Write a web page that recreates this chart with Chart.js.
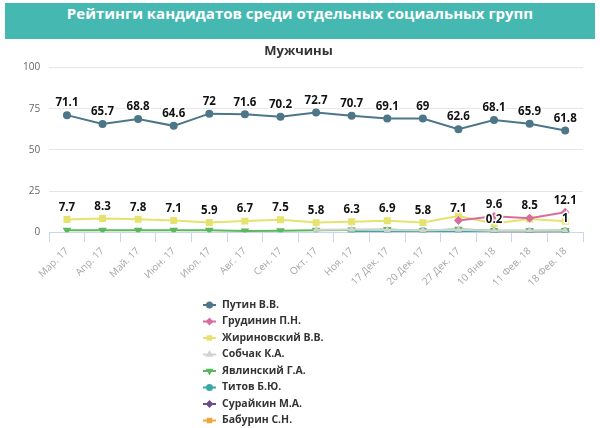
<!DOCTYPE html>
<html lang="ru">
<head>
<meta charset="utf-8">
<script src="https://cdn.jsdelivr.net/npm/chart.js@4.4.0/dist/chart.umd.min.js"></script>
<style>
  html, body { margin: 0; padding: 0; background: #fff; }
  #wrap { position: relative; width: 600px; height: 428px; }
  #banner {
    position: absolute; left: 5px; top: 3px; width: 590px; height: 36px;
    background: #45b8b2; color: #fff; text-align: center; line-height: 36px;
    font: bold 15px "Open Sans", sans-serif;
  }
  #line-chart { position: absolute; left: 0; top: 0; }
</style>
</head>
<body>
<div id="wrap">
  <canvas id="line-chart" width="600" height="428"></canvas>
  <div id="banner">Рейтинги кандидатов среди отдельных социальных групп</div>
</div>
<script>
const dates = ['Мар. 17', 'Апр. 17', 'Май. 17', 'Июн. 17', 'Июл. 17', 'Авг. 17', 'Сен. 17', 'Окт. 17',
  'Ноя. 17', '17 Дек. 17', '20 Дек. 17', '27 Дек. 17', '10 Янв. 18', '11 Фев. 18', '18 Фев. 18'];

const putin      = [71.1, 65.7, 68.8, 64.6, 72, 71.6, 70.2, 72.7, 70.7, 69.1, 69, 62.6, 68.1, 65.9, 61.8];
const grudinin   = [null, null, null, null, null, null, null, null, null, null, null, 7.1, 9.6, 8.5, 12.1];
const zhirinovsky = [7.7, 8.3, 7.8, 7.1, 5.9, 6.7, 7.5, 5.8, 6.3, 6.9, 5.8, 9.8, 5.2, 8.0, 6.6];
const sobchak    = [null, null, null, null, null, null, null, 1.5, 1.6, 1.3, 1.2, 1.4, 0.9, 0.8, 1.0];
const yavlinsky  = [1.2, 1.2, 1.1, 1.1, 1.2, 0.7, 0.8, 1.2, 1.3, 1.6, 0.9, 1.8, 0.8, 0.9, 1];
const titov      = [null, null, null, null, null, null, null, null, 0.6, 0.6, 0.6, 0.6, 0.4, 0.3, 0.4];
const suraykin   = [null, null, null, null, null, null, null, null, null, null, null, null, 0.2, 0.2, 0.4];
const baburin    = [null, null, null, null, null, null, null, null, null, null, null, null, null, 0.3, 0.4];

// which points get a value label (others are hidden like in the original)
const putinLabels = [0, 1, 2, 3, 4, 5, 6, 7, 8, 9, 10, 11, 12, 13, 14];
const grudininLabels = [11, 12, 13, 14];
const zhirinovskyLabels = [0, 1, 2, 3, 4, 5, 6, 7, 8, 9, 10];
const yavlinskyLabels = [14];
const suraykinLabels = [12];

function series(label, data, color, style, labelAt, rotation, radius) {
  return {
    label: label,
    data: data,
    borderColor: color,
    backgroundColor: color,
    borderWidth: 2,
    pointStyle: style,
    pointRotation: rotation || 0,
    pointRadius: radius || (style === 'rect' ? 3.5 : 3),
    tension: 0,
    spanGaps: false,
    labelAt: labelAt || []
  };
}

const pointLabels = {
  id: 'pointLabels',
  afterDatasetsDraw(chart) {
    const ctx = chart.ctx;
    ctx.save();
    ctx.font = 'bold 11.5px "Open Sans", sans-serif';
    ctx.textAlign = 'center';
    ctx.textBaseline = 'middle';
    chart.data.datasets.forEach((ds, i) => {
      const meta = chart.getDatasetMeta(i);
      ds.labelAt.forEach(j => {
        const pt = meta.data[j];
        const txt = String(ds.data[j]);
        ctx.lineWidth = 3;
        ctx.strokeStyle = '#fff';
        ctx.strokeText(txt, pt.x, pt.y - 12);
        ctx.fillStyle = '#111';
        ctx.fillText(txt, pt.x, pt.y - 12);
      });
    });
    ctx.restore();
  }
};

const columnLegend = {
  id: 'columnLegend',
  afterDraw(chart) {
    const ctx = chart.ctx;
    ctx.save();
    ctx.font = 'bold 10.5px "Open Sans", sans-serif';
    ctx.textBaseline = 'middle';
    chart.data.datasets.forEach((ds, i) => {
      const y = 305 + i * 16.5;
      ctx.strokeStyle = ds.borderColor;
      ctx.fillStyle = ds.borderColor;
      ctx.lineWidth = 2;
      ctx.beginPath();
      ctx.moveTo(203, y);
      ctx.lineTo(216, y);
      ctx.stroke();
      Chart.helpers.drawPoint(ctx, {pointStyle: ds.pointStyle, rotation: ds.pointRotation, radius: 2.5, borderWidth: 1}, 209.5, y);
      ctx.fillStyle = '#333';
      ctx.fillText(ds.label, 222, y);
    });
    ctx.restore();
  }
};

const config = {
  type: 'line',
  data: {
    labels: dates,
    datasets: [
      series('Путин В.В.', putin, '#4d7689', 'circle', putinLabels),
      series('Грудинин П.Н.', grudinin, '#d96c9e', 'rectRot', grudininLabels),
      series('Жириновский В.В.', zhirinovsky, '#e6e26e', 'rect', zhirinovskyLabels),
      series('Собчак К.А.', sobchak, '#d2d2d2', 'triangle', null, 0, 2),
      series('Явлинский Г.А.', yavlinsky, '#5cb85c', 'triangle', yavlinskyLabels, 180),
      series('Титов Б.Ю.', titov, '#3aa8a6', 'circle'),
      series('Сурайкин М.А.', suraykin, '#6b4f86', 'rectRot', suraykinLabels),
      series('Бабурин С.Н.', baburin, '#eba83a', 'rect')
    ]
  },
  options: {
    responsive: false,
    animation: false,
    layout: { padding: { left: 14, right: 17, top: 0, bottom: 136 } },
    plugins: {
      legend: { display: false },
      tooltip: { enabled: false },
      title: {
        display: true,
        text: 'Мужчины',
        color: '#333',
        font: { size: 13, weight: 'bold', family: '"Open Sans", sans-serif' },
        padding: { top: 43, bottom: 9 }
      }
    },
    scales: {
      x: {
        offset: true,
        grid: { offset: true, drawOnChartArea: false, tickLength: 10, color: '#ccd6eb' },
        border: { color: '#ccd6eb' },
        ticks: {
          autoSkip: false, minRotation: 45, maxRotation: 45,
          color: '#a6a6a6', font: { size: 10, family: '"Open Sans", sans-serif' }
        }
      },
      y: {
        min: 0, max: 100,
        grid: { color: '#e6e6e6', drawTicks: false },
        border: { display: false },
        ticks: {
          stepSize: 25, padding: 9,
          color: '#666', font: { size: 10, family: '"Open Sans", sans-serif' }
        }
      }
    }
  },
  plugins: [pointLabels, columnLegend]
};

const ctx = document.getElementById('line-chart').getContext('2d');
const myChart = new Chart(ctx, config);
</script>
</body>
</html>
